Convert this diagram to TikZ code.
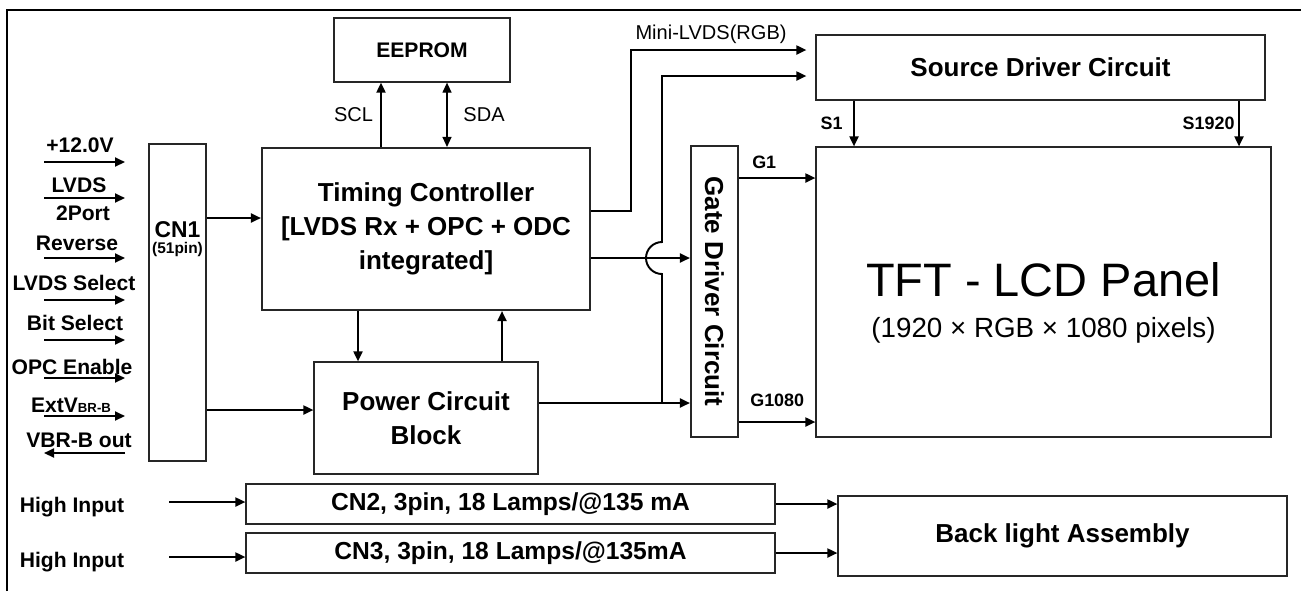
\documentclass[tikz,border=0pt]{standalone}
\usepackage{fontspec}
\setmainfont{Liberation Sans}
\usetikzlibrary{positioning, arrows.meta, calc}

\begin{document}
\begin{tikzpicture}[
  >={Triangle[length=2mm, width=1.8mm]},
  every node/.style={inner sep=0pt},
  blk/.style={
    draw=black!85, line width=0.7pt, align=center,
    font=\bfseries\fontsize{14.8}{19.4}\selectfont
  },
  ctrl/.style={blk, line width=1.2pt},
  inlbl/.style={font=\bfseries\fontsize{12}{14}\selectfont},
  sig/.style={font=\fontsize{11.4}{13}\selectfont, inner sep=2pt},
  pin/.style={font=\bfseries\fontsize{10.2}{12}\selectfont, inner sep=2pt},
  arr/.style={->, line width=1.1pt},
  bus/.style={<->, line width=0.7pt}
]
\useasboundingbox (0,0) rectangle (26.02,-11.82);

% Outer frame (top and left edge only)
\draw[line width=1.2pt] (0.14,-11.82) -- (0.14,-0.2) -- (26.02,-0.2);

% Connector CN1 and its inputs
\node[blk, line width=0.8pt, minimum width=1.14cm, minimum height=6.34cm] (cn1) at (3.55,-6.05) {};
\node[align=center, font=\bfseries\fontsize{13}{9}\selectfont] (cn1txt) at ([yshift=1.27cm]cn1.center)
  {CN1\\{\fontsize{8.8}{9}\selectfont (51pin)}};

\node[inlbl] (l12v)  at (1.60,-2.90) {+12.0V};
\node[inlbl] (llvds) at (1.58,-3.70) {LVDS};
\node[inlbl] (lport) at (1.66,-4.26) {2Port};
\node[inlbl] (lrev)  at (1.54,-4.86) {Reverse};
\node[inlbl] (lsel)  at (1.48,-5.66) {LVDS Select};
\node[inlbl] (lbit)  at (1.50,-6.46) {Bit Select};
\node[inlbl] (lopc)  at (1.44,-7.34) {OPC Enable};
\node[inlbl] (lext)  at (1.42,-8.10) {ExtV{\fontsize{7.5}{9}\selectfont BR-B}};
\node[inlbl] (lvbr)  at (1.58,-8.80) {VBR-B out};

\coordinate (in1a) at (0.88,-3.24); \coordinate (in1b) at (2.5,-3.24);
\coordinate (in2a) at (0.88,-3.96); \coordinate (in2b) at (2.5,-3.96);
\coordinate (in3a) at (0.88,-5.16); \coordinate (in3b) at (2.5,-5.16);
\coordinate (in4a) at (0.88,-6.00); \coordinate (in4b) at (2.5,-6.00);
\coordinate (in5a) at (0.88,-6.80); \coordinate (in5b) at (2.5,-6.80);
\coordinate (in6a) at (0.88,-7.56); \coordinate (in6b) at (2.5,-7.56);
\coordinate (in7a) at (0.88,-8.32); \coordinate (in7b) at (2.5,-8.32);
\coordinate (in8a) at (0.88,-9.06); \coordinate (in8b) at (2.5,-9.06);
\draw[arr] (in1a) -- (in1b);
\draw[arr] (in2a) -- (in2b);
\draw[arr] (in3a) -- (in3b);
\draw[arr] (in4a) -- (in4b);
\draw[arr] (in5a) -- (in5b);
\draw[arr] (in6a) -- (in6b);
\draw[arr] (in7a) -- (in7b);
\draw[arr] (in8b) -- (in8a);

% Control blocks
\node[blk, font=\bfseries\fontsize{12}{14}\selectfont, minimum width=3.52cm, minimum height=1.28cm] (eeprom) at (8.44,-1.0) {EEPROM};
\node[ctrl, minimum width=6.56cm, minimum height=3.24cm] (tcon) at (8.52,-4.58)
  {Timing Controller\\{}[LVDS Rx + OPC + ODC\\integrated]};
\node[blk, minimum width=4.48cm, minimum height=2.24cm] (power) at (8.52,-8.36) {Power Circuit\\Block};

% Drivers and panel
\node[ctrl, minimum width=0.94cm, minimum height=5.82cm] (gate) at (14.29,-5.83) {};
\node[rotate=-90, font=\bfseries\fontsize{14.8}{19.4}\selectfont] (gatetxt) at (gate.center) {Gate Driver Circuit};
\node[blk, minimum width=8.98cm, minimum height=1.3cm] (src) at (20.81,-1.35) {Source Driver Circuit};
\node[blk, minimum width=9.10cm, minimum height=5.80cm] (panel) at (20.87,-5.84) {};
\node[align=center, font=\fontsize{15.8}{23.3}\selectfont] (paneltxt) at ([yshift=-0.22cm]panel.center)
  {{\fontsize{26.7}{23.3}\selectfont TFT - LCD Panel}\\(1920 × RGB × 1080 pixels)};

% Backlight row
\node[blk, font=\bfseries\fontsize{14}{16}\selectfont, minimum width=10.58cm, minimum height=0.8cm] (cn2) at (10.21,-10.08) {CN2, 3pin, 18 Lamps/@135 mA};
\node[blk, font=\bfseries\fontsize{14}{16}\selectfont, minimum width=10.58cm, minimum height=0.8cm] (cn3) at (10.21,-11.06) {CN3, 3pin, 18 Lamps/@135mA};
\node[blk, minimum width=8.98cm, minimum height=1.6cm] (blight) at (21.25,-10.72) {Back light Assembly};
\node[inlbl] (hi1) at (1.44,-10.14) {High Input};
\node[inlbl] (hi2) at (1.44,-11.24) {High Input};
\coordinate (hin1) at (3.38,-10.04);
\coordinate (hin2) at (3.38,-11.14);

% Anchor points on block sides
\coordinate (tcin)   at ([yshift=0.22cm]tcon.west);
\coordinate (pwrin)  at ([yshift=0.16cm]power.west);
\coordinate (minout) at ([yshift=0.36cm]tcon.east);
\coordinate (tcout)  at ([yshift=-0.58cm]tcon.east);
\coordinate (pwrout) at ([yshift=0.3cm]power.east);
\coordinate (srcin1) at ([yshift=0.35cm]src.west);
\coordinate (srcin2) at ([yshift=-0.17cm]src.west);
\coordinate (scl) at ([xshift=-0.82cm]eeprom.south);
\coordinate (sda) at ([xshift=0.5cm]eeprom.south);
\coordinate (tdn) at ([xshift=-1.36cm]tcon.south);
\coordinate (pup) at ([xshift=1.52cm]tcon.south);
\coordinate (g1)    at ([yshift=2.27cm]gate.east);
\coordinate (g1080) at ([yshift=-2.61cm]gate.east);
\coordinate (s1)    at ([xshift=-3.73cm]src.south);
\coordinate (s1920) at ([xshift=3.97cm]src.south);
\coordinate (jn)  at (13.24,-8.06);
\coordinate (hop) at (13.24,-5.16);

% CN1 -> controller and power
\draw[arr] (tcin -| cn1.east) -- (tcin);
\draw[arr] (pwrin -| cn1.east) -- (pwrin);

% EEPROM bus
\draw[arr] (scl |- tcon.north) -- node[sig, midway, left=2pt] (scllbl) {SCL} (scl);
\draw[bus] (sda |- tcon.north) -- node[sig, midway, right=7pt] (sdalbl) {SDA} (sda);

% Controller <-> power
\draw[arr] (tdn) -- (tdn |- power.north);
\draw[arr] (pup |- power.north) -- (pup);

% Controller -> drivers
\draw[arr, shorten >=0.18cm] (minout) -- ++(0.8,0) |- node[sig, pos=0.5, anchor=south west, yshift=1pt] (minilbl) {Mini-LVDS(RGB)} (srcin1);
\draw[arr] (tcout) -- (tcout -| gate.west);
\draw[arr] (pwrout) -- (pwrout -| gate.west);
\draw[arr, shorten >=0.18cm] (jn) -- ([yshift=-0.32cm]hop) arc[start angle=270, end angle=90, radius=0.32cm] |- (srcin2);

% Drivers -> panel
\draw[arr] (g1) -- node[pin, pos=0.33, above=3pt] (g1lbl) {G1} (g1 -| panel.west);
\draw[arr] (g1080) -- node[pin, midway, above=6pt] (g1080lbl) {G1080} (g1080 -| panel.west);
\draw[arr] (s1) -- node[pin, midway, left=4pt] (s1lbl) {S1} (s1 |- panel.north);
\draw[arr] (s1920) -- node[pin, midway, left=0pt] (s1920lbl) {S1920} (s1920 |- panel.north);

% Backlight
\draw[arr] (hin1) -- (hin1 -| cn2.west);
\draw[arr] (hin2) -- (hin2 -| cn3.west);
\draw[arr] (cn2.east) -- (cn2.east -| blight.west);
\draw[arr] (cn3.east) -- (cn3.east -| blight.west);
\end{tikzpicture}
\end{document}
